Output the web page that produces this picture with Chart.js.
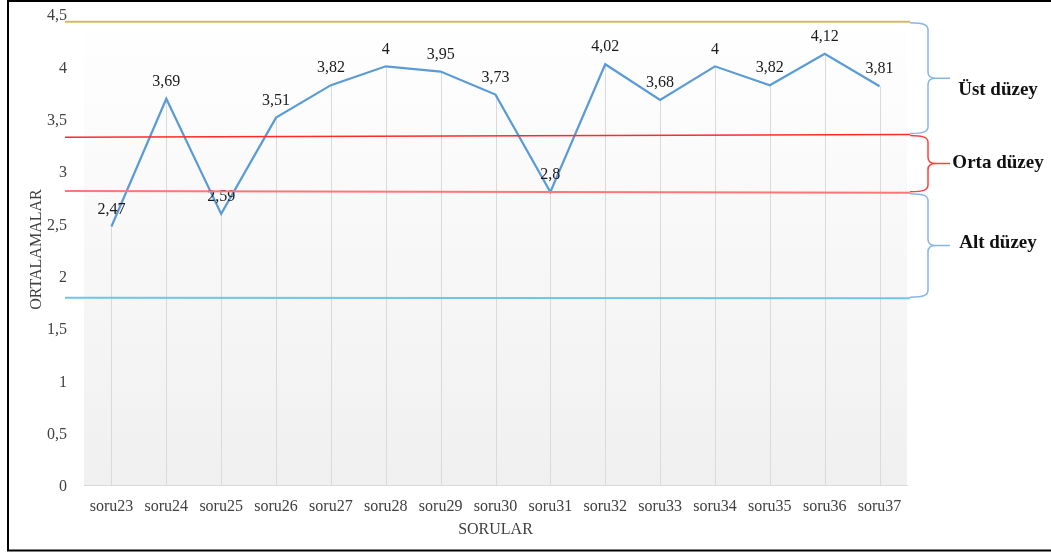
<!DOCTYPE html>
<html lang="tr">
<head>
<meta charset="utf-8">
<title>Sorulara göre ortalamalar</title>
<script src="https://cdn.jsdelivr.net/npm/chart.js@4.4.1/dist/chart.umd.min.js"></script>
<style>
  html, body { margin: 0; padding: 0; background: #ffffff; }
  #wrap { width: 1051px; height: 553px; position: relative; }
  canvas { display: block; }
</style>
</head>
<body>
<div id="wrap"><canvas id="chart" width="1051" height="553"></canvas></div>
<script>
// Soru kategorileri ve ortalama puanlar
const categories = ['soru23', 'soru24', 'soru25', 'soru26', 'soru27', 'soru28', 'soru29', 'soru30',
                    'soru31', 'soru32', 'soru33', 'soru34', 'soru35', 'soru36', 'soru37'];
const means = [2.47, 3.69, 2.59, 3.51, 3.82, 4, 3.95, 3.73, 2.8, 4.02, 3.68, 4, 3.82, 4.12, 3.81];

// Y ekseni aralığı
const yMin = 0;
const yMax = 4.5;
const yStep = 0.5;

// Düzey sınır çizgileri: [sol uç değeri, sağ uç değeri]
const topLimit = [4.425, 4.425];
const upperMidLimit = [3.322, 3.349];
const lowerMidLimit = [2.809, 2.792];
const bottomLimit = [1.789, 1.785];

// Düzey adları
const levelNames = ['Üst düzey', 'Orta düzey', 'Alt düzey'];

const fmt = v => String(v).replace('.', ',');
const SERIF = '"Liberation Serif", "Times New Roman", serif';

// Sınır çizgilerinin çizim stilleri
const limitStyles = [
  { line: topLimit,      color: '#d6b866', width: 2 },
  { line: upperMidLimit, color: '#ff2a2a', width: 1.5 },
  { line: lowerMidLimit, color: '#ff7676', width: 2 },
  { line: bottomLimit,   color: '#6cc6ee', width: 2 }
];

// Parantezler: hangi iki sınır arasında oldukları ve etiket kayması
const braceStyles = [
  { from: topLimit,      to: upperMidLimit, color: '#86b6e6', dy: 12 },
  { from: upperMidLimit, to: lowerMidLimit, color: '#ff4040', dy: -1 },
  { from: lowerMidLimit, to: bottomLimit,   color: '#86b6e6', dy: -2 }
];

const LINE_X0 = 65;
const LINE_X1 = 910;

function drawBrace(ctx, yTop, yBot, color) {
  const xEnd = LINE_X1, xSpine = 928, xTip = 950;
  const yMid = (yTop + yBot) / 2;
  ctx.save();
  ctx.strokeStyle = color;
  ctx.lineWidth = 1.5;
  ctx.beginPath();
  ctx.moveTo(xEnd, yTop);
  ctx.bezierCurveTo(xSpine - 4, yTop, xSpine, yTop + 2, xSpine, yTop + 7);
  ctx.lineTo(xSpine, yMid - 6);
  ctx.bezierCurveTo(xSpine, yMid - 2, xSpine + 3, yMid, xSpine + 8, yMid);
  ctx.lineTo(xTip, yMid);
  ctx.moveTo(xSpine + 8, yMid);
  ctx.bezierCurveTo(xSpine + 3, yMid, xSpine, yMid + 2, xSpine, yMid + 6);
  ctx.lineTo(xSpine, yBot - 7);
  ctx.bezierCurveTo(xSpine, yBot - 2, xSpine - 4, yBot, xEnd, yBot);
  ctx.stroke();
  ctx.restore();
  return yMid;
}

const decorPlugin = {
  id: 'decor',
  beforeDraw(chart) {
    const { ctx, chartArea: a } = chart;
    ctx.save();
    ctx.fillStyle = '#ffffff';
    ctx.fillRect(0, 0, chart.width, chart.height);
    const g = ctx.createLinearGradient(0, a.top, 0, a.bottom);
    g.addColorStop(0, '#ffffff');
    g.addColorStop(1, '#f0f0f0');
    ctx.fillStyle = g;
    ctx.fillRect(a.left, a.top, a.right - a.left, a.bottom - a.top);
    ctx.restore();
  },
  beforeDatasetsDraw(chart) {
    // Noktalardan eksene inen dikey çizgiler
    const { ctx, chartArea: a } = chart;
    const meta = chart.getDatasetMeta(0);
    ctx.save();
    ctx.strokeStyle = '#dadada';
    ctx.lineWidth = 1;
    meta.data.forEach(pt => {
      const x = Math.round(pt.x) + 0.5;
      ctx.beginPath();
      ctx.moveTo(x, pt.y);
      ctx.lineTo(x, a.bottom);
      ctx.stroke();
    });
    ctx.restore();
  },
  afterDatasetsDraw(chart) {
    const { ctx } = chart;
    const ys = chart.scales.y;
    const meta = chart.getDatasetMeta(0);

    // Değer etiketleri
    ctx.save();
    ctx.font = '16px ' + SERIF;
    ctx.fillStyle = '#1a1a1a';
    ctx.textAlign = 'center';
    ctx.textBaseline = 'middle';
    meta.data.forEach((pt, i) => {
      ctx.fillText(fmt(means[i]), pt.x, pt.y - 17);
    });
    ctx.restore();

    // Düzey sınır çizgileri
    limitStyles.forEach(s => {
      ctx.save();
      ctx.strokeStyle = s.color;
      ctx.lineWidth = s.width;
      ctx.beginPath();
      ctx.moveTo(LINE_X0, ys.getPixelForValue(s.line[0]));
      ctx.lineTo(LINE_X1, ys.getPixelForValue(s.line[1]));
      ctx.stroke();
      ctx.restore();
    });

    // Parantezler ve düzey adları
    braceStyles.forEach((b, i) => {
      const yTop = ys.getPixelForValue(b.from[1]) + 1;
      const yBot = ys.getPixelForValue(b.to[1]) - 1;
      const yMid = drawBrace(ctx, yTop, yBot, b.color);
      ctx.save();
      ctx.font = 'bold 19px ' + SERIF;
      ctx.fillStyle = '#111111';
      ctx.textAlign = 'center';
      ctx.textBaseline = 'middle';
      ctx.fillText(levelNames[i], 998, yMid + b.dy);
      ctx.restore();
    });

    // Dış çerçeve
    ctx.save();
    ctx.strokeStyle = '#000000';
    ctx.lineWidth = 2;
    ctx.strokeRect(8, 1, chart.width + 20, 549.5);
    ctx.restore();
  }
};

new Chart(document.getElementById('chart'), {
  type: 'line',
  data: {
    labels: categories,
    datasets: [{
      data: means,
      borderColor: '#5b9bd5',
      borderWidth: 2.2,
      pointRadius: 0,
      pointHoverRadius: 0,
      tension: 0,
      fill: false
    }]
  },
  options: {
    responsive: false,
    devicePixelRatio: 1,
    animation: false,
    events: [],
    layout: { padding: { left: 0, top: 14, right: 144, bottom: 0 } },
    plugins: {
      legend: { display: false },
      tooltip: { enabled: false },
      title: { display: false }
    },
    scales: {
      x: {
        type: 'category',
        offset: true,
        grid: { display: false, drawTicks: false },
        border: { display: true, color: '#d9d9d9', width: 1 },
        ticks: {
          autoSkip: false,
          maxRotation: 0,
          padding: 12,
          color: '#404040',
          font: { family: SERIF, size: 16 }
        },
        title: {
          display: true,
          text: 'SORULAR',
          color: '#404040',
          font: { family: SERIF, size: 16 },
          padding: { top: 0, bottom: 14 }
        },
        afterFit(scale) {
          scale.height = 68;
          scale.paddingLeft = 0;
          scale.paddingRight = 0;
        }
      },
      y: {
        min: yMin,
        max: yMax,
        grid: { display: false, drawTicks: false },
        border: { display: false },
        ticks: {
          stepSize: yStep,
          padding: 17,
          labelOffset: 2,
          color: '#404040',
          font: { family: SERIF, size: 16 },
          callback: v => fmt(v)
        },
        title: {
          display: true,
          text: 'ORTALAMALAR',
          color: '#404040',
          font: { family: SERIF, size: 16 },
          padding: { top: 27, bottom: 0 }
        },
        afterFit(scale) {
          scale.width = 84;
          scale.paddingTop = 0;
          scale.paddingBottom = 0;
        }
      }
    }
  },
  plugins: [decorPlugin]
});
</script>
</body>
</html>
